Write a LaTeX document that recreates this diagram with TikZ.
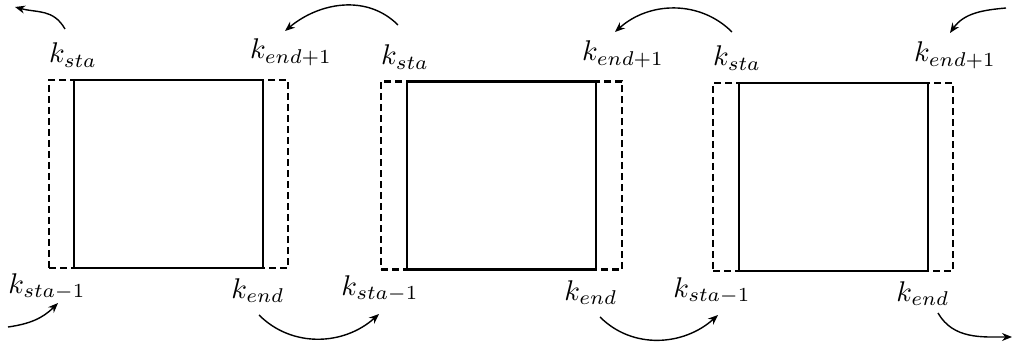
\documentclass[tikz,border=0pt]{standalone}
\usetikzlibrary{arrows.meta}
\begin{document}
\begin{tikzpicture}[x=1pt,y=1pt,
  dbox/.style={draw, line width=2.5pt, dash pattern=on 7pt off 4pt, inner sep=0pt, outer sep=0pt, minimum height=188pt},
  sbox/.style={draw, fill=white, line width=2.8pt, inner sep=0pt, outer sep=0pt, minimum height=188pt, minimum width=189pt},
  lbl/.style={anchor=base, inner sep=0pt, scale=2.85},
  arr/.style={line width=1.4pt, -{Stealth[length=10pt,width=8pt]}}
]
\useasboundingbox (0,0) rectangle (1013,-350);
% boxes
\node[dbox, minimum width=239pt] (d1) at (168.5,-174) {};
\node[sbox] (s1) at (168.5,-174) {};
\node[dbox, minimum width=241pt] (d2) at (501.5,-175.5) {};
\node[sbox] (s2) at (501.5,-175.5) {};
\node[dbox, minimum width=240pt] (d3) at (833,-177) {};
\node[sbox] (s3) at (833.5,-177) {};
% labels block 1
\node[lbl] (ts1) at (73,-63) {$k_{sta}$};
\node[lbl] (te1) at (291,-59) {$k_{end+1}$};
\node[lbl] (bs1) at (47,-293) {$k_{sta-1}$};
\node[lbl] (be1) at (258,-298) {$k_{end}$};
% labels block 2
\node[lbl] (ts2) at (405,-65) {$k_{sta}$};
\node[lbl] (te2) at (623,-61) {$k_{end+1}$};
\node[lbl] (bs2) at (380,-295) {$k_{sta-1}$};
\node[lbl] (be2) at (591,-300) {$k_{end}$};
% labels block 3
\node[lbl] (ts3) at (737,-66) {$k_{sta}$};
\node[lbl] (te3) at (955,-62) {$k_{end+1}$};
\node[lbl] (bs3) at (712,-297) {$k_{sta-1}$};
\node[lbl] (be3) at (923,-301) {$k_{end}$};
% arrow end points
\coordinate (a1s) at (65,-29);   \coordinate (a1e) at (15,-7);
\coordinate (a2s) at (398,-25);  \coordinate (a2e) at (285,-31);
\coordinate (a3s) at (732,-32);  \coordinate (a3e) at (615,-32);
\coordinate (a4s) at (1006,-8);  \coordinate (a4e) at (950,-33);
\coordinate (b1s) at (8,-327);   \coordinate (b1e) at (58,-303);
\coordinate (b2s) at (259,-315); \coordinate (b2e) at (379,-314);
\coordinate (b3s) at (600,-317); \coordinate (b3e) at (718,-315);
\coordinate (b4s) at (938,-313); \coordinate (b4e) at (1012,-337);
% arrows
\draw[arr] (a1s) to[out=120,in=-15,looseness=1.1] (a1e);
\draw[arr] (a2s) to[out=135,in=40] (a2e);
\draw[arr] (a3s) to[out=135,in=42] (a3e);
\draw[arr] (a4s) to[out=185,in=55] (a4e);
\draw[arr] (b1s) to[out=8,in=225] (b1e);
\draw[arr] (b2s) to[out=-45,in=-138] (b2e);
\draw[arr] (b3s) to[out=-45,in=-138] (b3e);
\draw[arr] (b4s) to[out=-60,in=180] (b4e);
\end{tikzpicture}
\end{document}
